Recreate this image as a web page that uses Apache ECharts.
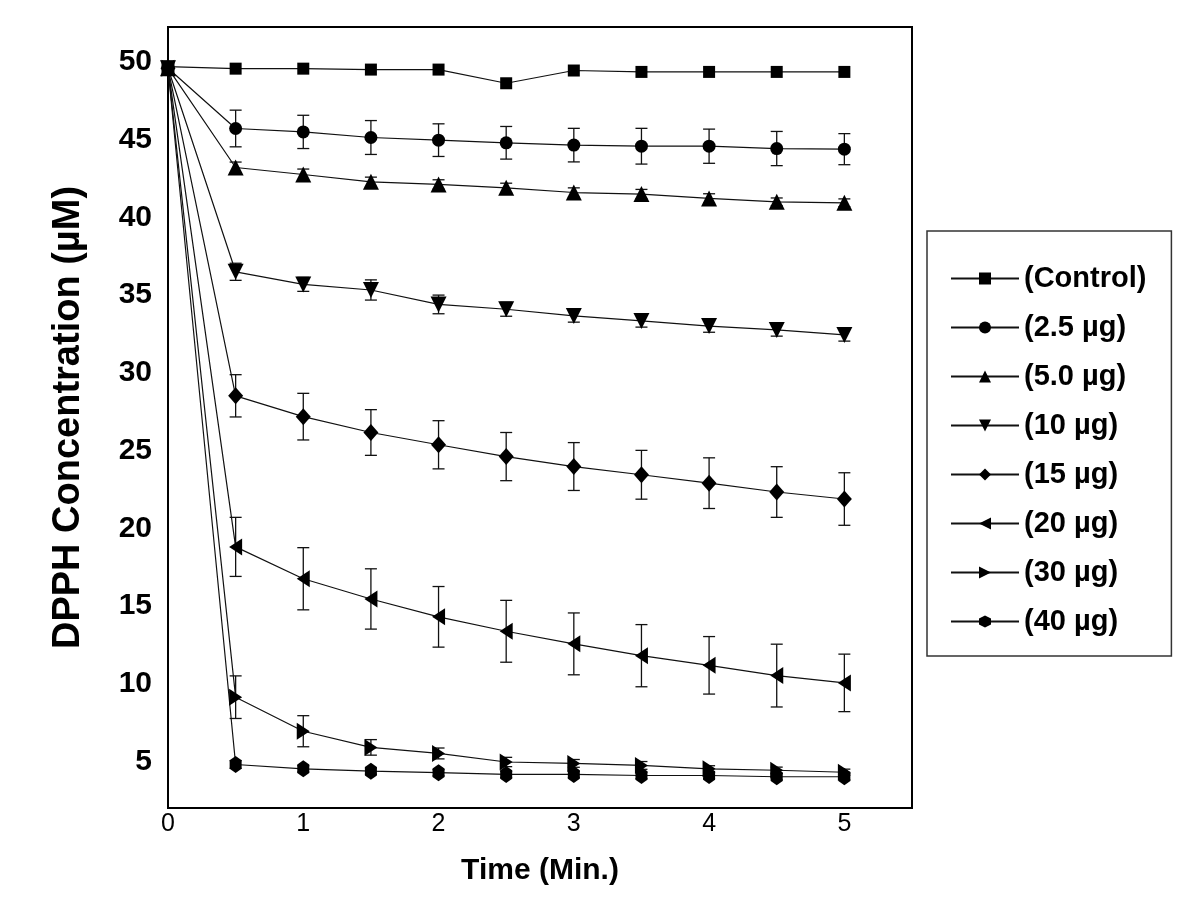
<!DOCTYPE html>
<html><head><meta charset="utf-8">
<script src="https://cdn.jsdelivr.net/npm/echarts@6/dist/echarts.min.js"></script>
<style>html,body{margin:0;padding:0;background:#fff}#c{width:1200px;height:923px}</style>
</head><body><div id="c"></div>
<script>
// ---- data ----
const times = [0, 0.5, 1, 1.5, 2, 2.5, 3, 3.5, 4, 4.5, 5];
const seriesNames = ['(Control)', '(2.5 µg)', '(5.0 µg)', '(10 µg)', '(15 µg)', '(20 µg)', '(30 µg)', '(40 µg)'];
const xTickLabels = [0, 1, 2, 3, 4, 5];
const yTickLabels = [5, 10, 15, 20, 25, 30, 35, 40, 45, 50];

const control = [49.7, 49.57, 49.57, 49.51, 49.51, 48.63, 49.45, 49.36, 49.36, 49.36, 49.36];
const ug2_5  = [49.6, 45.72, 45.5, 45.14, 44.97, 44.8, 44.65, 44.58, 44.58, 44.43, 44.39];
const ug5_0  = [49.6, 43.21, 42.76, 42.29, 42.12, 41.9, 41.6, 41.5, 41.22, 41.0, 40.94];
const ug10   = [49.6, 36.5, 35.69, 35.33, 34.4, 34.09, 33.66, 33.34, 33.01, 32.76, 32.44];
const ug15   = [49.6, 28.52, 27.18, 26.16, 25.37, 24.61, 23.97, 23.44, 22.9, 22.33, 21.88];
const ug20   = [49.6, 18.8, 16.75, 15.45, 14.3, 13.37, 12.56, 11.8, 11.18, 10.52, 10.05];
const ug30   = [49.6, 9.13, 6.94, 5.9, 5.51, 4.96, 4.87, 4.74, 4.52, 4.43, 4.3];
const ug40   = [49.6, 4.8, 4.52, 4.37, 4.27, 4.16, 4.16, 4.09, 4.09, 4.01, 4.01];

// error (± half width)
const errControl = [0, 0, 0, 0, 0, 0, 0, 0, 0, 0, 0];
const err2_5 = [0, 1.18, 1.07, 1.09, 1.05, 1.05, 1.08, 1.15, 1.1, 1.1, 1.0];
const err5_0 = [0, 0.35, 0.35, 0.3, 0.3, 0.3, 0.3, 0.3, 0.3, 0.25, 0.25];
const err10  = [0, 0.55, 0.45, 0.65, 0.6, 0.45, 0.4, 0.4, 0.4, 0.4, 0.4];
const err15  = [0, 1.36, 1.5, 1.47, 1.55, 1.55, 1.54, 1.57, 1.63, 1.63, 1.69];
const err20  = [0, 1.9, 2.0, 1.94, 1.95, 1.99, 1.99, 2.0, 1.85, 2.02, 1.85];
const err30  = [0, 1.37, 1.0, 0.5, 0.35, 0.3, 0.25, 0.25, 0.2, 0.2, 0.2];
const err40  = [0, 0.25, 0.2, 0.2, 0.2, 0.2, 0.2, 0.2, 0.2, 0.2, 0.2];

const values = [control, ug2_5, ug5_0, ug10, ug15, ug20, ug30, ug40];
const errors = [errControl, err2_5, err5_0, err10, err15, err20, err30, err40];

// ---- styles ----
const FONT = 'Liberation Sans, Arial, sans-serif';
const hexagon = 'path://M0,-10 L8,-5 L8,5 L0,10 L-8,5 L-8,-5 Z';
const symbols = [
  {symbol: 'rect', size: [12, 12], rotate: 0},
  {symbol: 'circle', size: 13, rotate: 0},
  {symbol: 'triangle', size: 16, rotate: 0},
  {symbol: 'triangle', size: 16, rotate: 180},
  {symbol: 'diamond', size: [15, 17], rotate: 0},
  {symbol: 'triangle', size: [17, 13], rotate: 90},
  {symbol: 'triangle', size: [17, 13], rotate: -90},
  {symbol: hexagon, size: [12, 17], rotate: 0}
];

const series = [];
seriesNames.forEach((name, i) => {
  const errData = times.map((t, j) => [t, values[i][j] - errors[i][j], values[i][j] + errors[i][j]])
    .filter((d, j) => errors[i][j] > 0);
  series.push({
    name: 'err' + i,
    type: 'custom',
    data: errData,
    z: 2,
    silent: true,
    renderItem: function (params, api) {
      const x = api.value(0);
      const lo = api.coord([x, api.value(1)]);
      const hi = api.coord([x, api.value(2)]);
      const w = 6;
      const st = {stroke: '#111', lineWidth: 1.3};
      return {
        type: 'group',
        children: [
          {type: 'line', shape: {x1: lo[0], y1: lo[1], x2: hi[0], y2: hi[1]}, style: st},
          {type: 'line', shape: {x1: lo[0] - w, y1: lo[1], x2: lo[0] + w, y2: lo[1]}, style: st},
          {type: 'line', shape: {x1: hi[0] - w, y1: hi[1], x2: hi[0] + w, y2: hi[1]}, style: st}
        ]
      };
    }
  });
  series.push({
    name: name,
    type: 'line',
    data: times.map((t, j) => [t, values[i][j]]),
    symbol: symbols[i].symbol,
    symbolSize: symbols[i].size,
    symbolRotate: symbols[i].rotate,
    showAllSymbol: true,
    z: 3,
    lineStyle: {color: '#111', width: 1.2},
    itemStyle: {color: '#000', borderWidth: 0},
    emphasis: {disabled: true}
  });
});

const chart = echarts.init(document.getElementById('c'), null, {renderer: 'canvas'});
chart.setOption({
  animation: false,
  backgroundColor: '#fff',
  grid: {left: 168, right: 288, top: 27, bottom: 115, show: true, borderColor: '#000', borderWidth: 2, backgroundColor: 'transparent'},
  xAxis: {
    type: 'value', min: 0, max: 5.5,
    name: 'Time (Min.)', nameLocation: 'middle', nameGap: 48,
    nameTextStyle: {fontFamily: FONT, fontSize: 30, fontWeight: 'bold', color: '#000'},
    axisLine: {show: true, lineStyle: {color: '#000', width: 2}},
    axisTick: {show: false},
    splitLine: {show: false},
    axisLabel: {customValues: xTickLabels, fontFamily: FONT, fontSize: 25, color: '#000', margin: 4}
  },
  yAxis: {
    type: 'value', min: 2, max: 52.25,
    name: 'DPPH Concentration (µM)', nameLocation: 'middle', nameGap: 80, nameRotate: 90,
    nameTextStyle: {fontFamily: FONT, fontSize: 38, fontWeight: 'bold', color: '#000'},
    axisLine: {show: true, lineStyle: {color: '#000', width: 2}},
    axisTick: {show: false},
    splitLine: {show: false},
    axisLabel: {customValues: yTickLabels, fontFamily: FONT, fontSize: 30, fontWeight: 'bold', color: '#000', margin: 16}
  },
  legend: {
    data: seriesNames,
    orient: 'vertical',
    left: 927, top: 231,
    padding: [33, 25, 20, 23],
    borderColor: '#333', borderWidth: 1.5,
    itemWidth: 68, itemHeight: 15, itemGap: 20,
    selectedMode: false,
    textStyle: {fontFamily: FONT, fontSize: 29, fontWeight: 'bold', color: '#000', padding: [0, 0, 0, 0]}
  },
  series: series
});
</script>
</body></html>
